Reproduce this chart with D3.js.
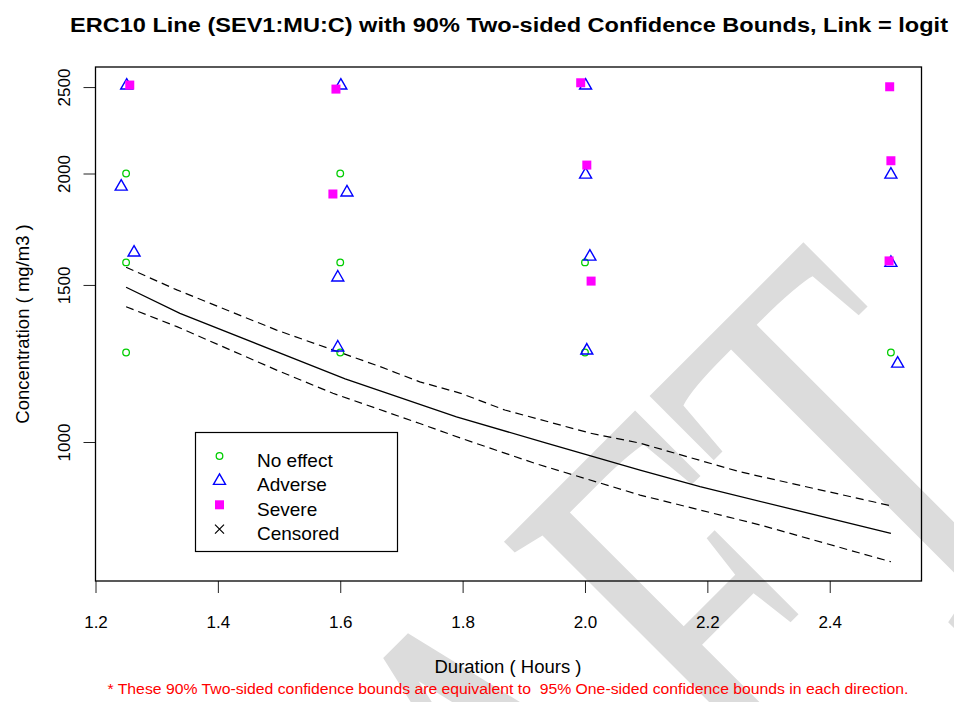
<html>
<head>
<script src="https://d3js.org/d3.v7.min.js"></script>
<style>
  body { margin: 0; background: #fff; }
  text { font-family: "Liberation Sans", Arial, sans-serif; }
</style>
</head>
<body>
<div id="chart"></div>
<script>
// durations on x, concentration on y (log)
var xTicks = [1.2, 1.4, 1.6, 1.8, 2.0, 2.2, 2.4];
var yTicks = [1000, 1500, 2000, 2500];

// observed responses [duration, concentration]
var noEffect = [[1.25, 2000], [1.25, 1590], [1.25, 1260],
                [1.6, 2000], [1.6, 1590], [1.6, 1260],
                [2.0, 1590], [2.0, 1260], [2.5, 1260]];
var adverse = [[1.251, 2513], [1.242, 1936], [1.263, 1633],
               [1.601, 2513], [1.611, 1907], [1.596, 1531], [1.596, 1278],
               [2.001, 2513], [2.001, 1997], [2.008, 1616], [2.003, 1268],
               [2.5, 1997], [2.5, 1590], [2.511, 1226]];
var severe = [[1.256, 2513],
              [1.593, 2487], [1.588, 1897],
              [1.993, 2528], [2.003, 2044], [2.010, 1515],
              [2.498, 2502], [2.5, 2067], [2.497, 1596]];
var censored = [];

// fitted ERC10 line and 90% bounds
var fitLine = [[1.25, 1491], [1.338, 1394], [1.608, 1177], [1.790, 1067],
               [1.937, 997], [2.090, 930], [2.188, 891], [2.5, 790]];
var upperBound = [[1.25, 1570], [1.333, 1481], [1.496, 1335], [1.665, 1215],
                  [1.730, 1168], [1.797, 1134], [1.869, 1086], [2.009, 1023],
                  [2.090, 997], [2.253, 926], [2.471, 857], [2.5, 848]];
var lowerBound = [[1.25, 1418], [1.333, 1347], [1.496, 1204], [1.588, 1134],
                  [1.730, 1049], [1.797, 1010], [1.919, 946], [2.090, 872],
                  [2.287, 807], [2.5, 734]];

var legendLabels = ["No effect", "Adverse", "Severe", "Censored"];

var W = 954, H = 702;
var svg = d3.select("#chart").append("svg").attr("width", W).attr("height", H);

// watermark behind everything (condensed serif, diagonal)
svg.append("text")
  .attr("transform", "translate(1081,511) rotate(-45) scale(0.64,1)")
  .attr("text-anchor", "end")
  .style("font-family", "'Liberation Serif', 'DejaVu Serif', serif")
  .style("font-size", "590px")
  .style("fill", "#dcdcdc")
  .text("DRAFT");

var x = d3.scaleLinear().domain([1.2, 2.55]).range([95.5, 921.5]);
var y = d3.scaleLog().domain([698.5, 2633]).range([581, 67]);

// title
svg.append("text")
  .attr("x", 509).attr("y", 32)
  .attr("text-anchor", "middle")
  .attr("textLength", 878).attr("lengthAdjust", "spacingAndGlyphs")
  .style("font-size", "19.5px").style("font-weight", "bold")
  .text("ERC10 Line (SEV1:MU:C) with 90% Two-sided Confidence Bounds, Link = logit");

// x axis
var xAxis = svg.append("g")
  .attr("transform", "translate(0,581)")
  .call(d3.axisBottom(x).tickValues(xTicks).tickSize(12).tickPadding(23)
        .tickFormat(d3.format(".1f")));
xAxis.select(".domain").remove();
xAxis.selectAll("line").attr("stroke", "#222");
xAxis.selectAll("text").style("font-size", "17px").attr("fill", "#000")
  .style("font-family", "'Liberation Sans', Arial, sans-serif");

// y axis
var yAxis = svg.append("g")
  .attr("transform", "translate(95.5,0)")
  .call(d3.axisLeft(y).tickValues(yTicks).tickSize(12).tickFormat(d3.format("d")));
yAxis.select(".domain").remove();
yAxis.selectAll("line").attr("stroke", "#222");
yAxis.selectAll("text")
  .attr("x", 0).attr("y", -26).attr("dy", 0)
  .attr("transform", "rotate(-90)")
  .attr("text-anchor", "middle")
  .attr("fill", "#000")
  .style("font-size", "17px")
  .style("font-family", "'Liberation Sans', Arial, sans-serif");

// plot box
svg.append("rect")
  .attr("x", x.range()[0]).attr("y", y.range()[1])
  .attr("width", x.range()[1] - x.range()[0])
  .attr("height", y.range()[0] - y.range()[1])
  .attr("fill", "none").attr("stroke", "#000").attr("stroke-width", 1.3);

// axis titles
svg.append("text")
  .attr("x", 508).attr("y", 673)
  .attr("text-anchor", "middle")
  .style("font-size", "18.5px")
  .text("Duration ( Hours )");
svg.append("text")
  .attr("transform", "translate(29,324) rotate(-90)")
  .attr("text-anchor", "middle")
  .style("font-size", "18.5px")
  .text("Concentration ( mg/m3 )");

// footnote
svg.append("text")
  .attr("x", 508).attr("y", 694)
  .attr("text-anchor", "middle")
  .attr("textLength", 801).attr("lengthAdjust", "spacingAndGlyphs")
  .style("font-size", "14px").style("fill", "#ff0000")
  .style("white-space", "pre")
  .text("* These 90% Two-sided confidence bounds are equivalent to  95% One-sided confidence bounds in each direction.");

// lines
var line = d3.line().x(function(d) { return x(d[0]); }).y(function(d) { return y(d[1]); });
svg.append("path").datum(fitLine).attr("d", line)
  .attr("fill", "none").attr("stroke", "#000").attr("stroke-width", 1.3);
[upperBound, lowerBound].forEach(function(b) {
  svg.append("path").datum(b).attr("d", line)
    .attr("fill", "none").attr("stroke", "#000").attr("stroke-width", 1.2)
    .attr("stroke-dasharray", "8,5");
});

// marker drawers
function drawCircle(g, cx, cy) {
  g.append("circle").attr("cx", cx).attr("cy", cy).attr("r", 3.3)
    .attr("fill", "none").attr("stroke", "#00cd00").attr("stroke-width", 1.3);
}
function drawTri(g, cx, cy) {
  g.append("path").attr("d", "M0,-6.5L6,4L-6,4Z")
    .attr("transform", "translate(" + cx + "," + cy + ")")
    .attr("fill", "none").attr("stroke", "#0000ff").attr("stroke-width", 1.4);
}
function drawSquare(g, cx, cy) {
  g.append("rect").attr("x", cx - 4.5).attr("y", cy - 4.5)
    .attr("width", 9).attr("height", 9).attr("fill", "#ff00ff");
}
function drawCross(g, cx, cy) {
  g.append("path").attr("d", "M-4.5,-4.5L4.5,4.5M-4.5,4.5L4.5,-4.5")
    .attr("transform", "translate(" + cx + "," + cy + ")")
    .attr("stroke", "#000").attr("stroke-width", 1.2);
}

var pts = svg.append("g");
noEffect.forEach(function(d) { drawCircle(pts, x(d[0]), y(d[1])); });
adverse.forEach(function(d) { drawTri(pts, x(d[0]), y(d[1])); });
severe.forEach(function(d) { drawSquare(pts, x(d[0]), y(d[1])); });
censored.forEach(function(d) { drawCross(pts, x(d[0]), y(d[1])); });

// legend
var lg = svg.append("g");
lg.append("rect").attr("x", 195.5).attr("y", 432.5).attr("width", 202).attr("height", 119)
  .attr("fill", "#fff").attr("stroke", "#000").attr("stroke-width", 1.2);
var drawers = [drawCircle, drawTri, drawSquare, drawCross];
legendLabels.forEach(function(lbl, i) {
  var cy = 456 + i * 24.4;
  drawers[i](lg, 219.5, cy);
  lg.append("text").attr("x", 257).attr("y", cy + 11)
    .style("font-size", "19px").text(lbl);
});
</script>
</body>
</html>
